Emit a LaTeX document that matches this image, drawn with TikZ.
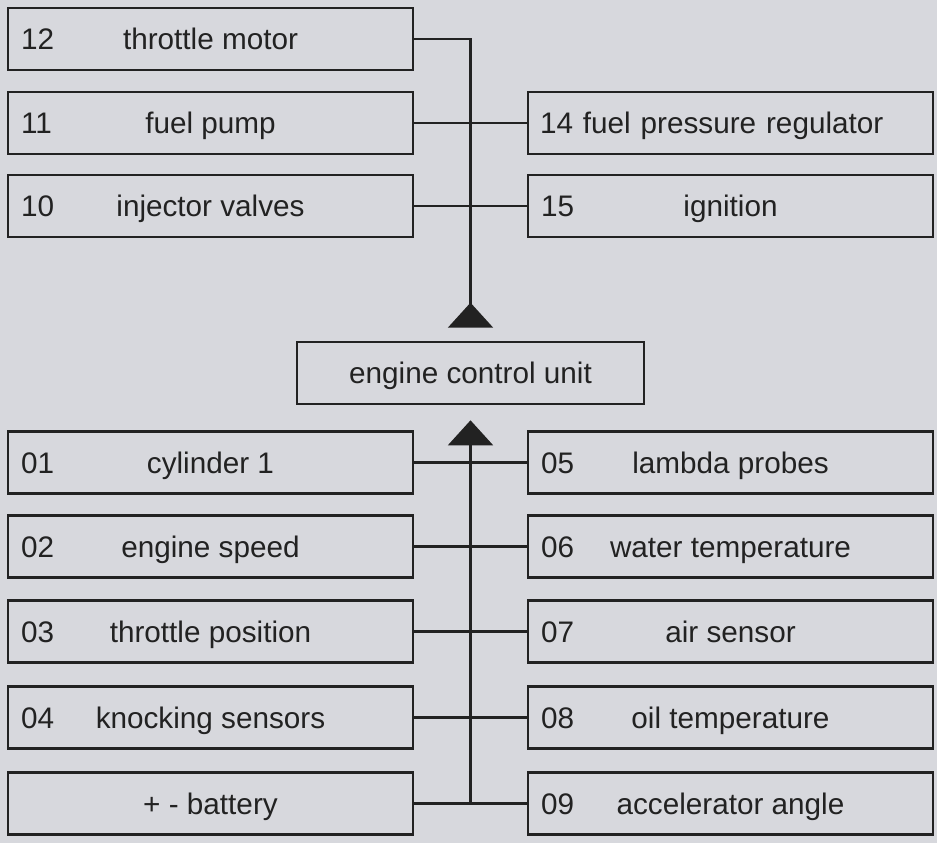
\documentclass[tikz,border=0pt]{standalone}
\usepackage{fontspec}
\setmainfont{Liberation Sans}
\usetikzlibrary{arrows.meta, positioning}
\definecolor{ink}{HTML}{222222}
\definecolor{paper}{HTML}{D7D8DD}

\begin{document}
\begin{tikzpicture}[
  font=\fontsize{16.9}{20}\selectfont, text=ink,
  part/.style={draw=ink, line width=1.5pt, rectangle, minimum width=8.1cm, minimum height=1.24cm, inner sep=0pt, text height=14pt, text depth=1.5pt},
  num/.style={label={[anchor=west, inner sep=0pt, xshift=2.8mm, text height=14pt, text depth=1.5pt]west:#1}},
  wire/.style={draw=ink, line width=1.2pt},
  >={Triangle[length=5mm, width=9mm]}
]
\useasboundingbox[fill=paper] (0,0) rectangle (18.74,-16.86);

% actuators
\node[part, num=12] (n12) at (4.21,-0.78) {throttle motor};
\node[part, num=11] (n11) at (4.21,-2.46) {fuel pump};
\node[part, num=10] (n10) at (4.21,-4.12) {injector valves};
\node[part, text width=7.62cm, align=left] (n14) at (14.61,-2.46) {14 fuel pressure regulator};
\node[part, num=15] (n15) at (14.61,-4.12) {ignition};

\node[part, minimum width=6.94cm] (ecu) at (9.41,-7.46) {engine control unit};

% sensors
\node[part, num=01] (n01) at (4.21,-9.25) {cylinder 1};
\node[part, num=02] (n02) at (4.21,-10.93) {engine speed};
\node[part, num=03] (n03) at (4.21,-12.63) {throttle position};
\node[part, num=04] (n04) at (4.21,-14.35) {knocking sensors};
\node[part] (bat) at (4.21,-16.07) {+ - battery};
\node[part, num=05] (n05) at (14.61,-9.25) {lambda probes};
\node[part, num=06] (n06) at (14.61,-10.93) {water temperature};
\node[part, num=07] (n07) at (14.61,-12.63) {air sensor};
\node[part, num=08] (n08) at (14.61,-14.35) {oil temperature};
\node[part, num=09] (n09) at (14.61,-16.07) {accelerator angle};

\draw[wire, -{Triangle[reversed, length=5mm, width=9mm]}] (n12.east) -| ([yshift=2.6mm]ecu.north);
\draw[wire] (n11.east) -- (n14.west);
\draw[wire] (n10.east) -- (n15.west);

\draw[wire, ->] (bat.east) -| ([yshift=-3mm]ecu.south);
\draw[wire] (n01.east) -- (n05.west);
\draw[wire] (n02.east) -- (n06.west);
\draw[wire] (n03.east) -- (n07.west);
\draw[wire] (n04.east) -- (n08.west);
\draw[wire] (bat.east) -- (n09.west);
\end{tikzpicture}
\end{document}
